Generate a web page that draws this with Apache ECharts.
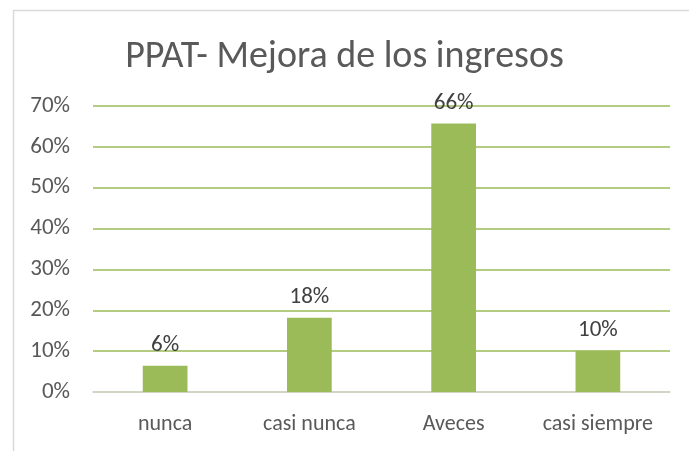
<!DOCTYPE html>
<html><head><meta charset="utf-8">
<script src="https://cdn.jsdelivr.net/npm/echarts@6/dist/echarts.min.js"></script>
<style>html,body{margin:0;padding:0;background:#fff}#c{width:689px;height:451px}</style>
</head><body><div id="c"></div>
<script>
const categories = ['nunca', 'casi nunca', 'Aveces', 'casi siempre'];
const values = [6.4, 18.2, 65.7, 10.1];
const labels = ['6%', '18%', '66%', '10%'];
const yTicks = [0, 10, 20, 30, 40, 50, 60, 70];
const FONT = 'Carlito, Lato, "Open Sans", sans-serif';
const chart = echarts.init(document.getElementById('c'));
chart.setOption({
  animation: false,
  backgroundColor: '#fff',
  graphic: [{type: 'rect', left: 11, top: 8, shape: {width: 700, height: 470}, style: {fill: 'none', stroke: '#D9D9D9', lineWidth: 1.5}, silent: true}],
  title: {text: 'PPAT- Mejora de los ingresos', left: 'center', top: 33,
    textStyle: {fontFamily: FONT, fontSize: 38, fontWeight: 'normal', color: '#595959'}},
  grid: {left: 93, right: 19, top: 106, bottom: 59},
  xAxis: {type: 'category', data: categories,
    axisLine: {lineStyle: {color: '#D9D9D9', width: 1.5}}, axisTick: {show: false},
    axisLabel: {interval: 0, hideOverlap: false, fontFamily: FONT, fontSize: 22, color: '#595959', margin: 21}},
  yAxis: {type: 'value', min: 0, max: 70, interval: 10,
    axisLabel: {formatter: v => v + '%', fontFamily: FONT, fontSize: 23, color: '#595959', margin: 23},
    axisLine: {show: false}, axisTick: {show: false},
    splitLine: {lineStyle: {color: '#9BBB59', width: 1.5}}},
  series: [{type: 'bar', data: values, barWidth: '31%', itemStyle: {color: '#9BBB59'},
    label: {show: true, position: 'top', distance: 9, formatter: p => labels[p.dataIndex],
      fontFamily: FONT, fontSize: 23, color: '#404040'}}]
});
</script></body></html>
